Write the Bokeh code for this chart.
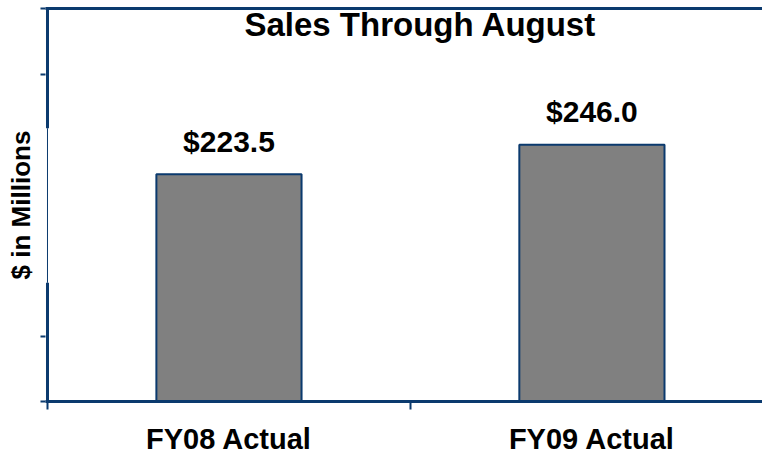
from bokeh.plotting import figure
from bokeh.models import Range1d, FixedTicker, LinearAxis
from bokeh.core.properties import value
from bokeh.embed import file_html
from bokeh.resources import INLINE

# ---- data ----
categories = ["FY08 Actual", "FY09 Actual"]
sales = [223.5, 246.0]
value_labels = ["$223.5", "$246.0"]
y_ticks = [50, 100, 150, 200, 250, 300, 350]
chart_title = "Sales Through August"
y_title = "$ in Millions"

# ---- style ----
NAVY = "#0B3A6E"
BAR = "#808080"
FONT = "Liberation Sans"

x_pos = [0.5 + i for i in range(len(categories))]
y_lo, y_hi = y_ticks[0], y_ticks[-1]
# region of the y axis hidden behind the axis title box in the original
gap_lo, gap_hi = 140.6, 258.6
visible_y_ticks = [t for t in y_ticks if not (gap_lo <= t <= gap_hi)]

p = figure(width=762, height=457,
           x_range=Range1d(-0.0055, 1.97), y_range=Range1d(y_lo, y_hi),
           output_backend="svg", toolbar_location=None,
           min_border_left=45, min_border_right=0,
           min_border_top=8, min_border_bottom=55)
p.grid.visible = False
p.outline_line_color = None
p.background_fill_color = "white"
p.border_fill_color = "white"

# x axis
xa = p.xaxis[0]
xa.ticker = FixedTicker(ticks=x_pos, minor_ticks=[0, 1, 2])
xa.major_label_overrides = {x: c for x, c in zip(x_pos, categories)}
xa.major_tick_out = 0
xa.major_tick_in = 0
xa.minor_tick_out = 8
xa.minor_tick_in = 0
xa.minor_tick_line_color = NAVY
xa.minor_tick_line_width = 2
xa.axis_line_color = NAVY
xa.axis_line_width = 3
xa.major_label_standoff = 13
xa.major_label_text_font = FONT
xa.major_label_text_font_style = "bold"
xa.major_label_text_font_size = "29px"
xa.major_label_text_color = "black"

# y axis: ticks only (as minor ticks, so no tick labels), line drawn below
ya = p.yaxis[0]
ya.ticker = FixedTicker(ticks=[], minor_ticks=visible_y_ticks)
ya.minor_tick_out = 5
ya.minor_tick_in = 0
ya.minor_tick_line_color = NAVY
ya.minor_tick_line_width = 2
ya.major_tick_line_color = None
ya.axis_line_color = None
ya.axis_label = y_title
ya.axis_label_standoff = 5
ya.axis_label_text_font = FONT
ya.axis_label_text_font_style = "bold"
ya.axis_label_text_font_size = "26px"
ya.axis_label_text_color = "black"

# top border line
top = LinearAxis(ticker=FixedTicker(ticks=[]),
                 major_tick_out=0, major_tick_in=0, minor_tick_out=0, minor_tick_in=0,
                 major_label_standoff=0, axis_line_color=NAVY, axis_line_width=3)
p.add_layout(top, "above")

# y axis line (interrupted behind the axis title, as in the original)
p.segment(x0=[0, 0], y0=[y_lo, gap_hi], x1=[0, 0], y1=[gap_lo, y_hi],
          line_color=NAVY, line_width=3)
p.segment(x0=[0], y0=[gap_lo], x1=[0], y1=[gap_hi], line_color=NAVY, line_width=1)

# bars
p.vbar(x=x_pos, top=sales, bottom=y_lo, width=0.4,
       fill_color=BAR, line_color=NAVY, line_width=2)

# value labels
p.text(x=x_pos, y=sales, text=value_labels, y_offset=-33,
       text_align="center", text_baseline="alphabetic",
       text_font=value(FONT), text_font_style="bold",
       text_font_size="30px", text_color="black")

# chart title inside plot area
p.text(x=[1.0275], y=[337.8], text=[chart_title],
       text_align="center", text_baseline="alphabetic",
       text_font=value(FONT), text_font_style="bold",
       text_font_size="33px", text_color="black")

open("out.html", "w").write(file_html(p, INLINE))
